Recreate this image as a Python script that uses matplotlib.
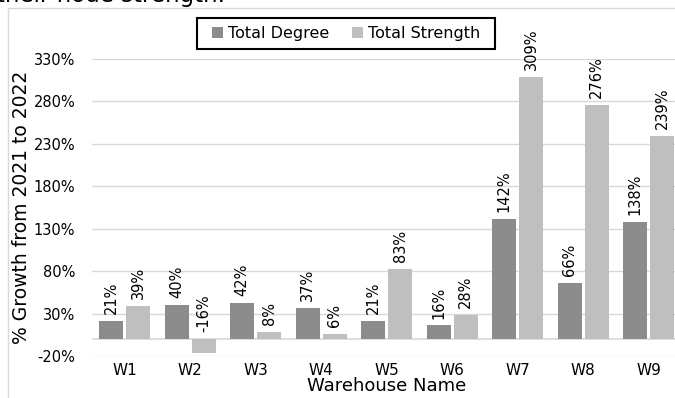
import matplotlib.pyplot as plt
from matplotlib.lines import Line2D
from matplotlib.patches import Rectangle
import numpy as np

warehouses = ["W1", "W2", "W3", "W4", "W5", "W6", "W7", "W8", "W9"]
total_degree = [21, 40, 42, 37, 21, 16, 142, 66, 138]
total_strength = [39, -16, 8, 6, 83, 28, 309, 276, 239]
y_ticks = [-20, 30, 80, 130, 180, 230, 280, 330]

DARK = "#8c8c8c"
LIGHT = "#bfbfbf"
GRID = "#d9d9d9"

W, H = 675, 398
fig = plt.figure(figsize=(W / 100, H / 100), dpi=100)
ax = fig.add_axes([92 / W, 1 - 356 / H, 589.5 / W, (356 - 59) / H])

x = np.arange(len(warehouses))
bw = 0.37
gap = 0.045
b1 = ax.bar(x - (bw + gap) / 2, total_degree, bw, color=DARK, label="Total Degree", zorder=3)
b2 = ax.bar(x + (bw + gap) / 2, total_strength, bw, color=LIGHT, label="Total Strength", zorder=3)

# value labels sit above the bar top (or above the baseline for negatives)
for bars, vals in ((b1, total_degree), (b2, total_strength)):
    for rect, v in zip(bars, vals):
        cx = rect.get_x() + rect.get_width() / 2
        ax.annotate(f"{v}%", (cx, max(v, 0)), xytext=(0, 5), textcoords="offset points",
                    rotation=90, ha="center", va="bottom", fontsize=10.5, zorder=4)

ax.set_xlim(-0.5, len(warehouses) - 0.5)
ax.set_ylim(-20, 330)
ax.set_yticks(y_ticks)
ax.set_yticklabels([f"{t}%" for t in y_ticks], fontsize=10.5)
ax.set_xticks(x)
ax.set_xticklabels(warehouses, fontsize=11)
ax.tick_params(length=0, pad=5)
ax.tick_params(axis="y", pad=12)
ax.yaxis.grid(True, color=GRID, linewidth=1, zorder=0)
ax.axhline(0, color=GRID, linewidth=1.2, zorder=2)
ax.set_axisbelow(True)
for s in ax.spines.values():
    s.set_visible(False)

ax.set_xlabel("Warehouse Name", fontsize=13, labelpad=-0.5)
ax.set_ylabel("% Growth from 2021 to 2022", fontsize=13.5, labelpad=2)

leg = ax.legend(loc="center", bbox_to_anchor=(346 / W, 1 - 33.5 / H), bbox_transform=fig.transFigure,
                ncol=2, fontsize=11.5, frameon=False, handlelength=0.7,
                handleheight=0.7, handletextpad=0.3, columnspacing=1.4)
# legend frame drawn separately so it can be wider than the entries
fig.add_artist(Rectangle((197 / W, 1 - 49 / H), 298 / W, 31 / H, transform=fig.transFigure,
                         fill=False, edgecolor="black", linewidth=1.5))

# outer chart border and the caption line above it
fig.add_artist(Line2D([8 / W, 1], [1 - 8 / H, 1 - 8 / H], transform=fig.transFigure, color=GRID, lw=1))
fig.add_artist(Line2D([8 / W, 8 / W], [0, 1 - 8 / H], transform=fig.transFigure, color=GRID, lw=1))
fig.text(-4 / W, 1 - 2 / H, "their node strength.", fontsize=16.5, va="baseline", ha="left")

fig.savefig("out.png", dpi=100)
